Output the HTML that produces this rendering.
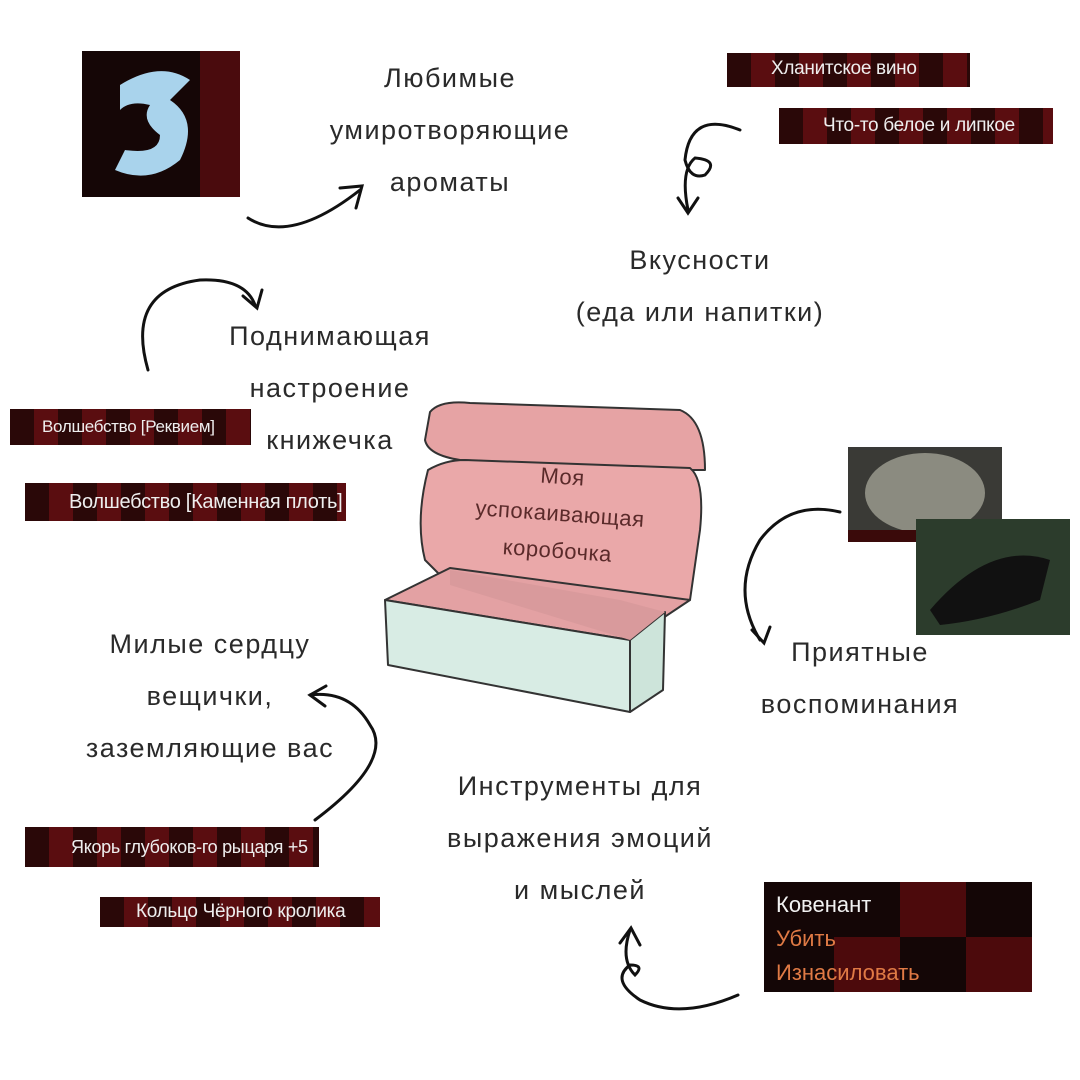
<!DOCTYPE html>
<html><head><meta charset="utf-8"><style>
body{margin:0;width:1080px;height:1080px;background:#fff;overflow:hidden;position:relative;font-family:"Liberation Sans","DejaVu Sans",sans-serif}
.t{position:absolute;color:#2a2a2a;font-size:27px;text-align:center;line-height:52px;letter-spacing:1.5px}
.tag{position:absolute;background:#1a0a0a;color:#eee;font-size:19px;letter-spacing:-0.3px;line-height:32px;padding-left:44px;box-sizing:border-box;white-space:nowrap;overflow:hidden;
background-image:repeating-linear-gradient(90deg,#2a0808 0 24px,#5a0d10 24px 48px)}
</style></head><body>
<svg width="1080" height="1080" style="position:absolute;left:0;top:0">
<rect x="82" y="51" width="158" height="146" fill="#150606"/>
<rect x="200" y="51" width="40" height="146" fill="#4a0b0d"/>
<path d="M120 85 Q160 60 190 80 L170 100 Q200 120 180 160 Q150 185 115 170 L125 150 Q160 155 160 135 Q140 120 150 105 Q130 100 120 110Z" fill="#a9d3ec"/>
<g stroke="#333" stroke-width="2" stroke-linejoin="round">
<path d="M430 412 Q440 400 470 403 L680 410 Q705 420 705 470 L690 470 L460 460 Q428 455 425 440Z" fill="#e6a3a4"/>
<path d="M428 470 Q445 460 465 460 L690 468 Q705 480 700 530 L690 600 L450 585 L425 560 Q415 520 428 470Z" fill="#eaa8a9"/>
<path d="M385 600 L450 568 L690 600 L630 640Z" fill="#e3a1a3"/>
<path d="M385 600 L630 640 L630 712 L388 665Z" fill="#d8ece4"/>
<path d="M630 640 L665 612 L663 690 L630 712Z" fill="#cde4da"/>
</g>
<path d="M450 570 L450 585 L630 640 L665 612 L620 600" fill="#d99a9c"/>
<g fill="none" stroke="#111" stroke-width="3" stroke-linecap="round">
<path d="M248 218 Q290 245 360 190"/><path d="M340 188 L362 186 L356 208"/>
<path d="M148 370 Q125 290 200 280 Q245 278 255 305"/><path d="M243 296 L257 308 L262 290"/>
<path d="M740 130 Q690 110 685 160 Q690 180 705 175 Q720 160 695 158 Q680 170 688 210"/><path d="M678 198 L688 213 L698 198"/>
<path d="M840 512 Q790 500 760 540 Q730 590 760 640"/><path d="M752 630 L764 643 L770 627"/>
<path d="M315 820 Q395 760 370 725 Q350 690 310 695"/><path d="M326 686 L310 695 L325 706"/>
<path d="M738 995 Q680 1020 640 1000 Q610 980 630 965 Q645 965 635 975 Q620 960 630 930"/><path d="M620 943 L631 928 L640 945"/>
</g>
<rect x="848" y="447" width="154" height="92" fill="#3a3a36"/>
<ellipse cx="925" cy="493" rx="60" ry="40" fill="#8b8b80"/>
<rect x="848" y="530" width="70" height="12" fill="#3a0a0a"/>
<rect x="916" y="519" width="154" height="116" fill="#2c3c2c"/>
<path d="M930 610 Q990 540 1050 560 L1040 600 Q990 620 940 625Z" fill="#111"/>
<rect x="764" y="882" width="268" height="110" fill="#140606"/>
<rect x="900" y="882" width="66" height="55" fill="#4c0a0c"/><rect x="834" y="937" width="66" height="55" fill="#4c0a0c"/><rect x="966" y="937" width="66" height="55" fill="#4c0a0c"/>
</svg>
<div class="t" style="left:310px;top:52px;width:280px">Любимые<br>умиротворяющие<br>ароматы</div>
<div class="t" style="left:530px;top:234px;width:340px">Вкусности<br>(еда или напитки)</div>
<div class="t" style="left:190px;top:310px;width:280px">Поднимающая<br>настроение<br>книжечка</div>
<div class="t" style="left:50px;top:618px;width:320px">Милые сердцу<br>вещички,<br>заземляющие вас</div>
<div class="t" style="left:730px;top:626px;width:260px">Приятные<br>воспоминания</div>
<div class="t" style="left:410px;top:760px;width:340px">Инструменты для<br>выражения эмоций<br>и мыслей</div>
<div class="t" style="left:460px;top:458px;width:200px;font-size:22px;line-height:37px;color:#5a2a2a;transform:rotate(4deg);letter-spacing:0.5px">Моя<br>успокаивающая<br>коробочка</div>
<div class="tag" style="left:727px;top:53px;width:243px;height:34px">Хланитское вино</div>
<div class="tag" style="left:779px;top:108px;width:274px;height:36px;line-height:36px">Что-то белое и липкое</div>
<div class="tag" style="left:10px;top:409px;width:241px;height:36px;padding-left:32px;font-size:17px;line-height:36px">Волшебство [Реквием]</div>
<div class="tag" style="left:25px;top:483px;width:321px;height:38px;line-height:38px;font-size:20px">Волшебство [Каменная плоть]</div>
<div class="tag" style="left:25px;top:827px;width:294px;height:40px;padding-left:46px;line-height:40px;font-size:18px">Якорь глубоков-го рыцаря +5</div>
<div class="tag" style="left:100px;top:897px;width:280px;height:30px;padding-left:36px;line-height:30px">Кольцо Чёрного кролика</div>
<div style="position:absolute;left:776px;top:888px;font-size:22px;line-height:34px;color:#f2f2f2">Ковенант<br><span style="color:#e07a45">Убить</span><br><span style="color:#e07a45">Изнасиловать</span></div>
</body></html>
